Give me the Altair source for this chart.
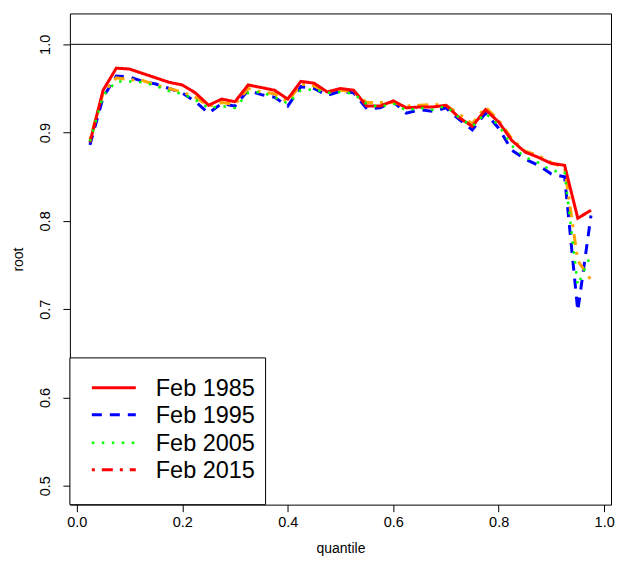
import altair as alt
import pandas as pd

quantile = [0.025, 0.05, 0.075, 0.1, 0.125, 0.15, 0.175, 0.2, 0.225, 0.25,
            0.275, 0.3, 0.325, 0.35, 0.375, 0.4, 0.425, 0.45, 0.475, 0.5,
            0.525, 0.55, 0.575, 0.6, 0.625, 0.65, 0.675, 0.7, 0.725, 0.75,
            0.775, 0.8, 0.825, 0.85, 0.875, 0.9, 0.925, 0.95, 0.975]

feb1985 = [0.889, 0.948, 0.973, 0.972, 0.967, 0.962, 0.957, 0.954, 0.945, 0.931,
           0.938, 0.935, 0.954, 0.951, 0.948, 0.938, 0.958, 0.956, 0.946, 0.950,
           0.948, 0.930, 0.930, 0.936, 0.928, 0.929, 0.929, 0.931, 0.917, 0.907,
           0.926, 0.912, 0.891, 0.878, 0.872, 0.865, 0.863, 0.803, 0.812]

feb1995 = [0.886, 0.940, 0.964, 0.963, 0.958, 0.955, 0.950, 0.945, 0.935, 0.922,
           0.933, 0.930, 0.948, 0.943, 0.940, 0.930, 0.952, 0.950, 0.942, 0.947,
           0.945, 0.927, 0.928, 0.935, 0.922, 0.926, 0.924, 0.928, 0.915, 0.903,
           0.922, 0.905, 0.880, 0.870, 0.863, 0.853, 0.850, 0.698, 0.806]

feb2005 = [0.890, 0.942, 0.958, 0.958, 0.957, 0.953, 0.947, 0.944, 0.937, 0.928,
           0.930, 0.928, 0.945, 0.946, 0.940, 0.933, 0.948, 0.949, 0.945, 0.946,
           0.944, 0.932, 0.929, 0.933, 0.925, 0.928, 0.926, 0.930, 0.917, 0.907,
           0.922, 0.908, 0.885, 0.872, 0.866, 0.857, 0.855, 0.727, 0.762]

feb2015 = [0.892, 0.945, 0.962, 0.960, 0.959, 0.954, 0.950, 0.946, 0.940, 0.930,
           0.934, 0.932, 0.950, 0.946, 0.944, 0.935, 0.955, 0.953, 0.945, 0.948,
           0.946, 0.934, 0.934, 0.934, 0.930, 0.931, 0.932, 0.931, 0.921, 0.910,
           0.929, 0.914, 0.893, 0.879, 0.874, 0.866, 0.860, 0.755, 0.733]

series_names = ["Feb 1985", "Feb 1995", "Feb 2005", "Feb 2015"]
series_values = [feb1985, feb1995, feb2005, feb2015]
line_colors = ["#FF0000", "#0000FF", "#00FF00", "#FFA500"]
legend_colors = ["#FF0000", "#0000FF", "#00FF00", "#FF0000"]
dashes = [[1, 0], [10, 8], [2.5, 7.5], [3, 7, 11, 7]]
widths = [3, 3, 2.5, 3]

x_ticks = [0.0, 0.2, 0.4, 0.6, 0.8, 1.0]
y_ticks = [0.5, 0.6, 0.7, 0.8, 0.9, 1.0]

FONT = "Liberation Sans"
W, H = 542, 492

xscale = alt.Scale(domain=[-0.013, 1.013], nice=False, zero=False)
yscale = alt.Scale(domain=[0.4785, 1.035], nice=False, zero=False)

xaxis = alt.Axis(values=x_ticks, format=".1f", title="quantile", grid=False,
                 domain=False, tickSize=7, tickColor="black", labelColor="black",
                 labelFont=FONT, labelFontSize=14.5, labelPadding=4,
                 titleFont=FONT, titleFontSize=14, titleFontWeight="normal",
                 titleColor="black", titlePadding=12)
yaxis = alt.Axis(values=y_ticks, format=".1f", title="root", grid=False,
                 domain=False, tickSize=7, tickColor="black", labelColor="black",
                 labelFont=FONT, labelFontSize=14.5, labelAngle=-90,
                 labelAlign="center", labelBaseline="bottom", labelPadding=10,
                 titleFont=FONT, titleFontSize=14, titleFontWeight="normal",
                 titleColor="black", titlePadding=12)

layers = []
draw_order = [1, 3, 0, 2]
for i in draw_order:
    df = pd.DataFrame({"quantile": quantile, "root": series_values[i]})
    layers.append(
        alt.Chart(df).mark_line(color=line_colors[i], strokeWidth=widths[i],
                                strokeDash=dashes[i], clip=True)
        .encode(x=alt.X("quantile:Q", scale=xscale, axis=xaxis),
                y=alt.Y("root:Q", scale=yscale, axis=yaxis))
    )

ref = alt.Chart(pd.DataFrame({"y": [1.0]})).mark_rule(color="black", strokeWidth=1).encode(
    y=alt.Y("y:Q", scale=yscale))
layers.insert(0, ref)

# legend box
box = alt.Chart(pd.DataFrame({"a": [0]})).mark_rect(
    fill="white", stroke="black", strokeWidth=1).encode(
    x=alt.value(0), x2=alt.value(196), y=alt.value(345), y2=alt.value(492))
layers.append(box)

row_y = [375, 402, 430, 457]
for i, name in enumerate(series_names):
    d = pd.DataFrame({"label": [name]})
    layers.append(
        alt.Chart(d).mark_rule(color=legend_colors[i], strokeWidth=widths[i],
                               strokeDash=dashes[i])
        .encode(x=alt.value(22), x2=alt.value(66), y=alt.value(row_y[i]))
    )
    layers.append(
        alt.Chart(d).mark_text(align="left", baseline="middle", font=FONT,
                               fontSize=23.5, color="black")
        .encode(x=alt.value(86), y=alt.value(row_y[i] + 1), text="label:N")
    )

chart = alt.layer(*layers).properties(
    width=W, height=H,
    background="white",
    autosize=alt.AutoSizeParams(type="none"),
    padding={"left": 62, "top": 5, "right": 10, "bottom": 56},
).configure_view(stroke="black", strokeWidth=1)

chart.save("out.html", embed_options={"renderer": "svg", "actions": False})
